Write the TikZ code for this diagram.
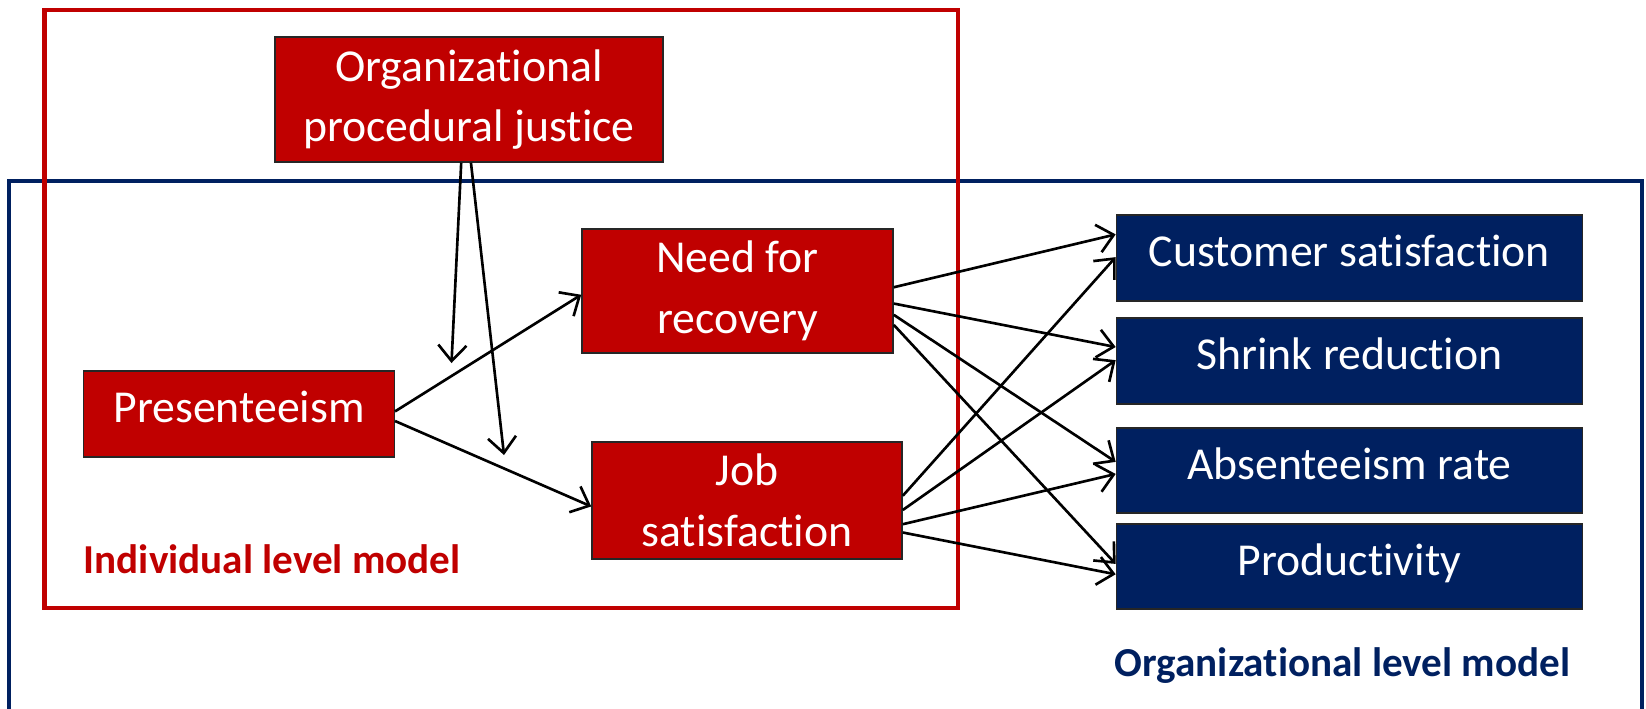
\documentclass[tikz,border=0pt]{standalone}
\usepackage{fontspec}
\setmainfont{Carlito}[Ligatures={NoCommon}]
\usetikzlibrary{arrows.meta,calc}
\definecolor{darkred}{HTML}{C00000}
\definecolor{navy}{HTML}{002060}

\begin{document}
\begin{tikzpicture}[x=0.01cm,y=-0.01cm,
        redbox/.style={draw=black!85, line width=.4pt, fill=darkred, text=white, align=center, inner sep=0pt, font=\fontsize{13}{17.2}\selectfont},
        bluebox/.style={draw=black!85, line width=.4pt, fill=navy, text=white, inner sep=0pt, minimum width=4.66cm, minimum height=.86cm, font=\fontsize{13}{17.2}\selectfont},
        oneline/.style={text height=9pt, text depth=4pt},
        link/.style={-{Straight Barb[length=4.5pt,width=8pt]}, line width=.75pt, black},
        levellabel/.style={anchor=base west, inner sep=0pt, font=\fontsize{11.7}{14}\selectfont\bfseries}]
        \useasboundingbox (0,0) rectangle (1646,708);
        % frames of the two models
        \draw[navy, line width=1pt] (9,712) -- (9,181) -- (1642,181) -- (1642,712);
        \draw[darkred, line width=1.3pt] (44.6,10) rectangle (958,608);
        % individual level boxes
        \node[redbox, minimum width=3.88cm, minimum height=1.25cm] (opj) at (469,99.5) {Organizational\\procedural justice};
        \node[redbox, minimum width=3.11cm, minimum height=1.24cm] (nfr) at (737.5,291) {Need for\\recovery};
        \node[redbox, oneline, minimum width=3.105cm, minimum height=.86cm] (pres) at (239,414) {Presenteeism};
        \node[redbox, minimum width=3.1cm, minimum height=1.17cm] (js) at (747,500.5) {Job\\satisfaction};
        % organizational level boxes
        \node[bluebox, oneline] (cs) at (1349.5,258) {Customer satisfaction};
        \node[bluebox, oneline] (sr) at (1349.5,361) {Shrink reduction};
        \node[bluebox, oneline, minimum height=.85cm] (ar) at (1349.5,470.5) {Absenteeism rate};
        \node[bluebox, oneline, minimum height=.85cm] (prod) at (1349.5,566.5) {Productivity};
        % labels
        \node[levellabel, text=darkred] (indlabel) at (83,573) {Individual level model};
        \node[levellabel, text=navy] (orglabel) at (1114,676) {Organizational level model};
        % moderation arrows
        \coordinate (mod1) at (451.5,363);
        \coordinate (mod2) at (504,455);
        \draw[link] ($(opj.south west)!.48!(opj.south east)$) -- (mod1);
        \draw[link] ($(opj.south west)!.505!(opj.south east)$) -- (mod2);
        % presenteeism paths
        \draw[link] ($(pres.north east)!.47!(pres.south east)$) -- ($(nfr.north west)!.53!(nfr.south west)$);
        \draw[link] ($(pres.north east)!.58!(pres.south east)$) -- ($(js.north west)!.55!(js.south west)$);
        % need for recovery paths
        \draw[link] ($(nfr.north east)!.47!(nfr.south east)$) -- ($(cs.north west)!.23!(cs.south west)$);
        \draw[link] ($(nfr.north east)!.60!(nfr.south east)$) -- ($(sr.north west)!.34!(sr.south west)$);
        \draw[link] ($(nfr.north east)!.69!(nfr.south east)$) -- ($(ar.north west)!.40!(ar.south west)$);
        \draw[link] ($(nfr.north east)!.77!(nfr.south east)$) -- ($(prod.north west)!.47!(prod.south west)$);
        % job satisfaction paths
        \draw[link] ($(js.north east)!.46!(js.south east)$) -- ($(cs.north west)!.49!(cs.south west)$);
        \draw[link] ($(js.north east)!.58!(js.south east)$) -- ($(sr.north west)!.49!(sr.south west)$);
        \draw[link] ($(js.north east)!.70!(js.south east)$) -- ($(ar.north west)!.54!(ar.south west)$);
        \draw[link] ($(js.north east)!.77!(js.south east)$) -- ($(prod.north west)!.59!(prod.south west)$);
\end{tikzpicture}
\end{document}
